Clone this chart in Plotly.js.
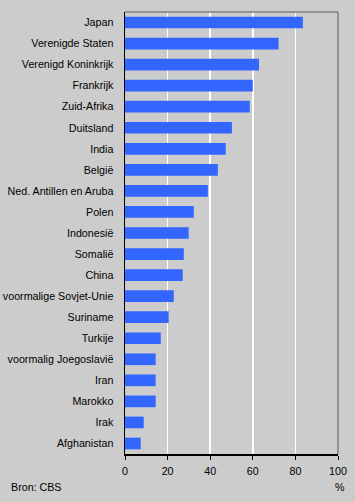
<!DOCTYPE html>
<html>
<head>
<meta charset="utf-8">
<script src="https://cdn.plot.ly/plotly-3.0.1.min.js"></script>
<style>html,body{margin:0;padding:0;background:#cccccc;}#chart{width:355px;height:502px;}</style>
</head>
<body>
<div id="chart"></div>
<script>
const countries = ["Japan","Verenigde Staten","Verenigd Koninkrijk","Frankrijk","Zuid-Afrika","Duitsland","India","België","Ned. Antillen en Aruba","Polen","Indonesië","Somalië","China","voormalige Sovjet-Unie","Suriname","Turkije","voormalig Joegoslavië","Iran","Marokko","Irak","Afghanistan"];
const percentages = [83.5,72.1,62.9,60.0,58.6,50.2,47.3,43.6,38.9,32.3,29.9,27.6,27.1,22.9,20.5,16.8,14.4,14.4,14.4,8.8,7.4];
const xTicks = [0,20,40,60,80,100];
const sourceText = "Bron: CBS";
const unitText = "%";

const font = {family: "Liberation Sans, Arial, sans-serif", size: 10.7, color: "#000000"};

Plotly.newPlot("chart", [{
  type: "bar",
  orientation: "h",
  x: percentages,
  y: countries,
  marker: {color: "#3366ff", line: {width: 0}},
  hoverinfo: "none"
}], {
  width: 355, height: 502,
  paper_bgcolor: "#cccccc",
  plot_bgcolor: "#cccccc",
  margin: {l: 125, r: 17, t: 12, b: 48, pad: 0},
  font: font,
  bargap: 0.445,
  showlegend: false,
  xaxis: {
    range: [0, 100],
    tickvals: xTicks,
    ticktext: xTicks.map(String),
    showgrid: true, gridcolor: "#ffffff", gridwidth: 1.5,
    zeroline: false,
    showline: true, linecolor: "#000000", linewidth: 1.5,
    ticks: "outside", ticklen: 4, tickcolor: "#000000", tickwidth: 1,
    ticklabelstandoff: 3,
    tickfont: font,
    fixedrange: true
  },
  yaxis: {
    type: "category",
    autorange: "reversed",
    showgrid: false,
    zeroline: false,
    showline: true, linecolor: "#000000", linewidth: 1.5,
    ticks: "", ticklabelstandoff: 8,
    tickfont: font,
    fixedrange: true
  },
  shapes: [
    {type: "line", xref: "paper", yref: "paper", x0: 0, x1: 1, y0: 1, y1: 1, line: {color: "#808080", width: 1.5}},
    {type: "line", xref: "paper", yref: "paper", x0: 1, x1: 1, y0: 0, y1: 1, line: {color: "#808080", width: 1.5}}
  ],
  annotations: [
    {text: sourceText, xref: "paper", yref: "paper", x: -116/213, y: -33/442, xanchor: "left", yanchor: "middle", showarrow: false, font: font},
    {text: unitText, xref: "paper", yref: "paper", x: 1.01, y: -33/442, xanchor: "center", yanchor: "middle", showarrow: false, font: font}
  ]
}, {staticPlot: true});
</script>
</body>
</html>
